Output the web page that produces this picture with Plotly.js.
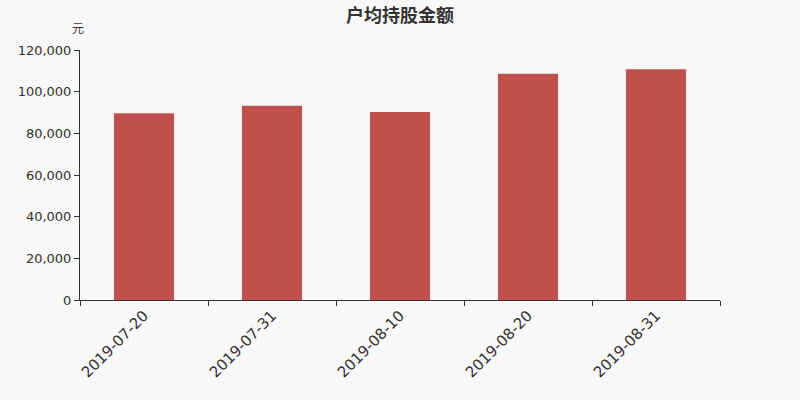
<!DOCTYPE html>
<html><head><meta charset="utf-8">
<script src="https://cdn.plot.ly/plotly-3.0.1.min.js"></script>
<style>html,body{margin:0;padding:0;background:#f8f8f8;}</style>
</head><body>
<div id="chart" style="width:800px;height:400px;"></div>
<script>
const categories = ["2019-07-20", "2019-07-31", "2019-08-10", "2019-08-20", "2019-08-31"];
const values = [89700, 93200, 90300, 108600, 110800];
const yTickVals = [0, 20000, 40000, 60000, 80000, 100000, 120000];
const yTickText = ["0", "20,000", "40,000", "60,000", "80,000", "100,000", "120,000"];

const font = "DejaVu Sans, Noto Sans CJK SC, sans-serif";
Plotly.newPlot("chart", [{
  type: "bar",
  x: categories,
  y: values,
  marker: {color: "#c0504d"},
  width: 0.47,
  hoverinfo: "x+y"
}], {
  width: 800, height: 400,
  paper_bgcolor: "#f8f8f8", plot_bgcolor: "#f8f8f8",
  margin: {l: 80, r: 80, t: 50, b: 100},
  font: {family: font, color: "#333", size: 12},
  title: {text: "<b>户均持股金额</b>", x: 0.5, xanchor: "center", y: 0.962, yanchor: "middle",
          font: {family: "Noto Sans CJK SC, sans-serif", size: 18, color: "#333"}},
  xaxis: {
    type: "category", tickson: "boundaries", ticks: "outside", ticklen: 5, tickcolor: "#333",
    showline: true, linecolor: "#333", linewidth: 1, showgrid: false, zeroline: false,
    tickangle: -45, tickfont: {size: 15, color: "#333", family: font}
  },
  yaxis: {
    range: [0, 120000], tickvals: yTickVals, ticktext: yTickText,
    ticks: "outside", ticklen: 5, tickcolor: "#333",
    showline: true, linecolor: "#333", linewidth: 1, showgrid: false, zeroline: false,
    tickfont: {size: 13, color: "#333", family: font}
  },
  annotations: [{text: "元", xref: "paper", yref: "paper", x: 0, y: 1, xanchor: "center", yanchor: "bottom",
    xshift: -2, yshift: 12, showarrow: false, font: {size: 12, color: "#333", family: "Noto Sans CJK SC, sans-serif"}}],
  showlegend: false
}, {displayModeBar: false});
</script>
</body></html>
